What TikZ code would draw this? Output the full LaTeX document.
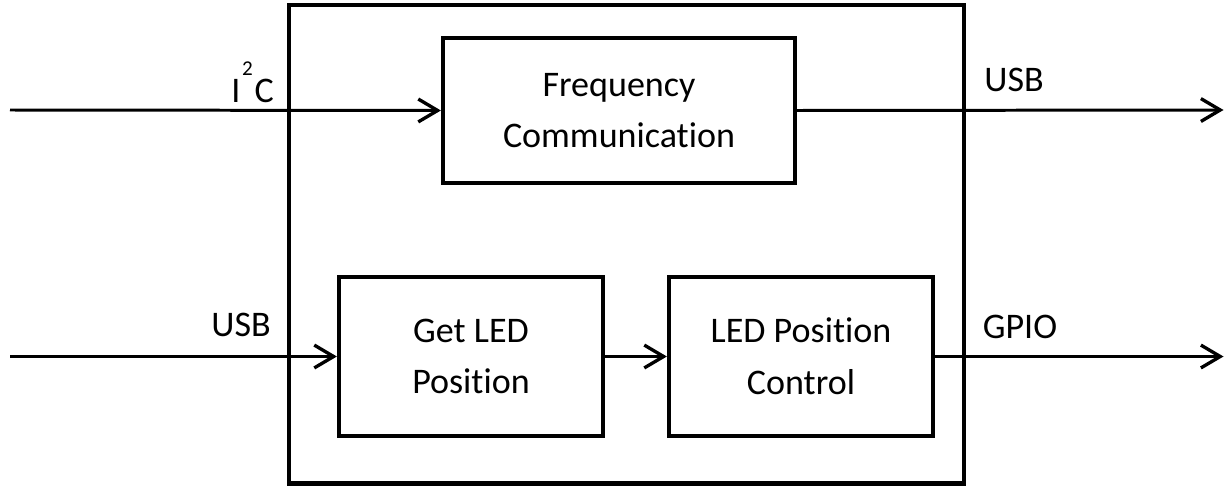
\documentclass[tikz,border=0pt]{standalone}
\usepackage{fontspec}
\setmainfont[Ligatures=NoCommon]{Carlito}
\usetikzlibrary{arrows.meta}
\tikzset{
  blockbox/.style={draw,line width=2.4pt,minimum width=#1,minimum height=3.18cm,
    align=center,font=\fontsize{20.5}{29.5}\selectfont},
  sig/.style={line width=1.7pt,-{Straight Barb[length=11pt,width=13pt,line width=1.9pt]}},
  siglabel/.style={font=\fontsize{20.5}{24}\selectfont,inner sep=0pt}
}
\newcommand{\supup}[1]{\hspace{1pt}\raisebox{15pt}{\fontsize{12}{12}\selectfont #1}\hspace{1pt}}
\begin{document}
\begin{tikzpicture}
  \useasboundingbox (0,0) rectangle (24.52,9.72);
  % Outer module
  \draw[line width=2.6pt] (5.78,0.05) rectangle (19.28,9.62);
  % Blocks
  \node[blockbox=7.04cm,minimum height=2.90cm] (freq) at (12.38,7.51) {Frequency\\Communication};
  \node[blockbox=5.28cm] (getpos) at (9.42,2.59) {Get LED\\Position};
  \node[blockbox=5.28cm] (posctrl) at (16.02,2.59) {LED Position\\Control};
  % Free ends
  \coordinate (i2cin) at (0.2,7.52);
  \coordinate (usbin) at (0.2,2.59);
  \coordinate (usbout) at (24.47,7.52);
  \coordinate (gpioout) at (24.47,2.59);
  % Signals
  \draw[sig] (i2cin) -- (freq.west);
  \draw[sig] (freq.east) -- (usbout);
  \draw[sig] (usbin) -- (getpos.west);
  \draw[sig] (getpos.east) -- (posctrl.west);
  \draw[sig] (posctrl.east) -- (gpioout);
  % Labels
  \node[siglabel,anchor=base] (i2clbl) at (5.05,7.68) {I\supup{2}C};
  \node[siglabel] (usboutlbl) at (20.28,8.12) {USB};
  \node[siglabel] (usbinlbl) at (4.82,3.22) {USB};
  \node[siglabel] (gpiolbl) at (20.40,3.18) {GPIO};
\end{tikzpicture}
\end{document}
